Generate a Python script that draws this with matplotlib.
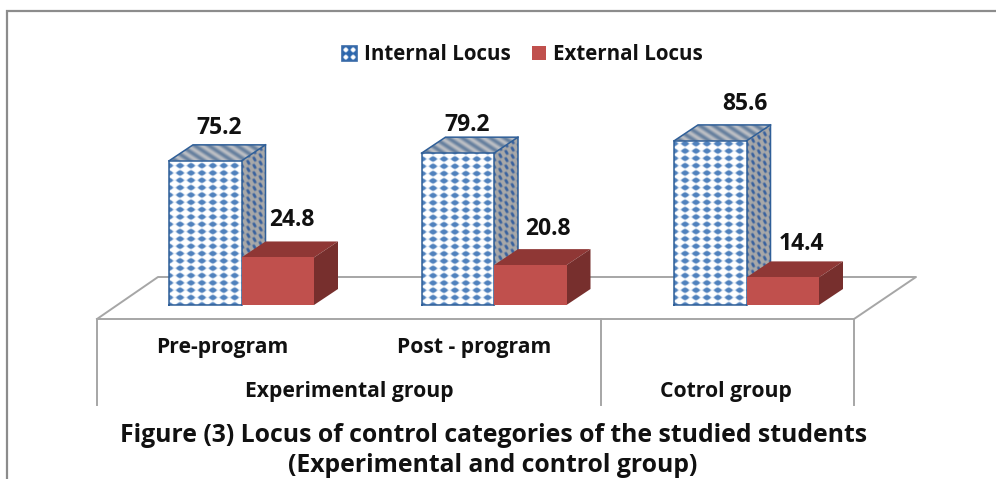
import numpy as np
from matplotlib import pyplot as plt
from matplotlib.patches import Polygon, Rectangle
from matplotlib.transforms import Affine2D

W, H = 996, 479

# Donnees :
groups = [0, 1, 2]
internal = [75.2, 79.2, 85.6]
external = [24.8, 20.8, 14.4]
internal_label_offset = [(14, 33), (9, 28), (35, 37)]
external_label_offset = [(14, 37), (18, 36), (19, 33)]
sub_labels = ["Pre-program", "Post - program"]
group_labels = ["Experimental group", "Cotrol group"]
legend_labels = ["Internal Locus", "External Locus"]
title_lines = ["Figure (3) Locus of control categories of the studied students",
               "(Experimental and control group)"]

# echelle : pixels par unite
PX_X = 252.5
PX_Y = 1.917
X0_PX = 241.5
Y0_PX = 305
BAR_W = 72.5 / PX_X
DEPTH_X = 24 / PX_X
DEPTH_Y = 16 / PX_Y

BLUE = np.array([79, 129, 189]) / 255
EDGE = "#2f5f98"
GREY = "#a6a6a6"
FONT = "Open Sans"


def front_tex(u, v):
    # points bleus sur fond blanc
    z = np.cos(2 * np.pi * u / 10.9) + np.cos(2 * np.pi * v / 7.3)
    t = np.clip((z + 0.1) / 0.9, 0, 1)[..., None]
    return t * BLUE + (1 - t) * np.ones(3)


def side_tex(u, v):
    v = v + u * 16 / 24
    z = np.cos(2 * np.pi * u / 6) + np.cos(2 * np.pi * v / 7.3)
    t = np.clip((z + 0.1) / 1.4, 0, 1)[..., None]
    return t * np.array([0.22, 0.38, 0.62]) + (1 - t) * np.array([0.66, 0.66, 0.66])


def top_tex(u, v):
    z = np.cos(2 * np.pi * (u + v * 1.5) / 14)
    t = ((z + 1) / 2)[..., None]
    return t * np.array([0.74, 0.75, 0.77]) + (1 - t) * np.array([0.40, 0.50, 0.62])


def legend_tex(u, v):
    z = np.cos(2 * np.pi * u / 7.5) + np.cos(2 * np.pi * v / 7.5)
    t = np.clip((z + 1.0) / 1.0, 0, 1)[..., None]
    return t * np.array([0.17, 0.40, 0.68]) + (1 - t) * np.ones(3)


def textured(ax, corners, tex, zorder):
    """Remplit un polygone (coordonnees donnees) avec une texture."""
    corners = np.array(corners)
    x0, y0 = corners.min(axis=0)
    x1, y1 = corners.max(axis=0)
    nx = max(int((x1 - x0) * PX_X * 3), 2)
    ny = max(int((y1 - y0) * PX_Y * 3), 2)
    u, v = np.meshgrid(np.linspace(0, (x1 - x0) * PX_X, nx),
                       np.linspace(0, (y1 - y0) * PX_Y, ny))
    im = ax.imshow(tex(u, v), extent=(x0, x1, y0, y1), origin="lower",
                   aspect="auto", interpolation="bilinear", zorder=zorder)
    clip = Polygon(corners, closed=True, transform=ax.transData)
    im.set_clip_path(clip)


def draw_internal(ax, x, val, zorder):
    r = x + BAR_W
    textured(ax, [(x, val), (r, val), (r + DEPTH_X, val + DEPTH_Y), (x + DEPTH_X, val + DEPTH_Y)], top_tex, zorder)
    textured(ax, [(r, 0), (r + DEPTH_X, DEPTH_Y), (r + DEPTH_X, val + DEPTH_Y), (r, val)], side_tex, zorder)
    textured(ax, [(x, 0), (r, 0), (r, val), (x, val)], front_tex, zorder)
    outline = [[(x, 0), (x, val), (r, val), (r, 0), (x, 0)],
               [(x, val), (x + DEPTH_X, val + DEPTH_Y), (r + DEPTH_X, val + DEPTH_Y),
                (r + DEPTH_X, DEPTH_Y), (r, 0)],
               [(r, val), (r + DEPTH_X, val + DEPTH_Y)]]
    for line in outline:
        xs, ys = zip(*line)
        ax.plot(xs, ys, color=EDGE, lw=1.1, zorder=zorder + 0.1, solid_joinstyle="miter")


def draw_external(ax, x, val, zorder):
    r = x + BAR_W
    ax.add_patch(Polygon([(x, val), (r, val), (r + DEPTH_X, val + DEPTH_Y), (x + DEPTH_X, val + DEPTH_Y)],
                         fc="#8f3735", ec="none", zorder=zorder))
    ax.add_patch(Polygon([(r, 0), (r + DEPTH_X, DEPTH_Y), (r + DEPTH_X, val + DEPTH_Y), (r, val)],
                         fc="#772f2d", ec="none", zorder=zorder))
    ax.add_patch(Rectangle((x, 0), BAR_W, val, fc="#c0504d", ec="none", zorder=zorder))


def main() -> int:
    fig = plt.figure(figsize=(W / 100, H / 100), dpi=100)
    ax = fig.add_axes([0, 0, 1, 1])
    ax.axis("off")

    # repere en pixels pour le decor (origine en haut a gauche)
    pix = Affine2D().scale(1, -1).translate(0, H)

    # Cadre :
    ax.plot([7, 7, W], [H, 11, 11], color="#8c8c8c", lw=1.6, transform=pix, zorder=1,
            solid_joinstyle="miter")

    # Sol et axes :
    ax.plot([97, 158, 916, 854, 97], [319, 277, 277, 319, 319], color=GREY, lw=1.4, transform=pix, zorder=1)
    for xp in [97, 601, 854]:
        ax.plot([xp, xp], [319, 405], color=GREY, lw=1.4, transform=pix, zorder=1)

    # Barres :
    for g, a, b in zip(groups, internal, external):
        draw_internal(ax, g - BAR_W, a, 3)
        draw_external(ax, g, b, 4)

    # Valeurs :
    for g, a, off in zip(groups, internal, internal_label_offset):
        ax.annotate(f"{a}", (g - BAR_W / 2, a), xytext=off, textcoords="offset pixels",
                    ha="center", va="center", fontsize=16.5, fontweight="bold",
                    family=FONT, color="#111111", zorder=6)
    for g, b, off in zip(groups, external, external_label_offset):
        ax.annotate(f"{b}", (g + BAR_W / 2, b), xytext=off, textcoords="offset pixels",
                    ha="center", va="center", fontsize=16.5, fontweight="bold",
                    family=FONT, color="#111111", zorder=6)

    # Libelles d'axe :
    style = dict(transform=pix, ha="center", va="center", fontweight="bold",
                 family=FONT, color="#111111", fontsize=15.2)
    ax.text(222, 348, sub_labels[0], **style)
    ax.text(474, 348, sub_labels[1], **style)
    ax.text(349, 391, group_labels[0], **style)
    ax.text(726, 391, group_labels[1], **style)

    # Legende :
    s0 = (342 - X0_PX) / PX_X
    s1 = (357 - X0_PX) / PX_X
    t0 = (Y0_PX - 61) / PX_Y
    t1 = (Y0_PX - 46) / PX_Y
    textured(ax, [(s0, t0), (s1, t0), (s1, t1), (s0, t1)], legend_tex, 5)
    ax.add_patch(Rectangle((342, 46), 15, 15, fc="none", ec="#3a6ba8", lw=1.2, transform=pix, zorder=5.1))
    ax.add_patch(Rectangle((532, 46), 14, 14, fc="#c0504d", ec="none", transform=pix, zorder=5))
    ax.text(364, 54, legend_labels[0], transform=pix, ha="left", va="center", fontsize=14.8,
            fontweight="bold", family=FONT, color="#111111")
    ax.text(553, 54, legend_labels[1], transform=pix, ha="left", va="center", fontsize=14.8,
            fontweight="bold", family=FONT, color="#111111")

    # Titre :
    ax.text(494, 436, title_lines[0], transform=pix, ha="center", va="center", fontsize=17.8,
            fontweight="bold", family=FONT, color="#111111")
    ax.text(493, 465, title_lines[1], transform=pix, ha="center", va="center", fontsize=17.8,
            fontweight="bold", family=FONT, color="#111111")

    # Limites apres imshow :
    ax.set_xlim(-X0_PX / PX_X, (W - X0_PX) / PX_X)
    ax.set_ylim(-(H - Y0_PX) / PX_Y, Y0_PX / PX_Y)

    fig.savefig("out.png", dpi=100, facecolor="white")
    return (0)


if __name__ == "__main__":
    main()
